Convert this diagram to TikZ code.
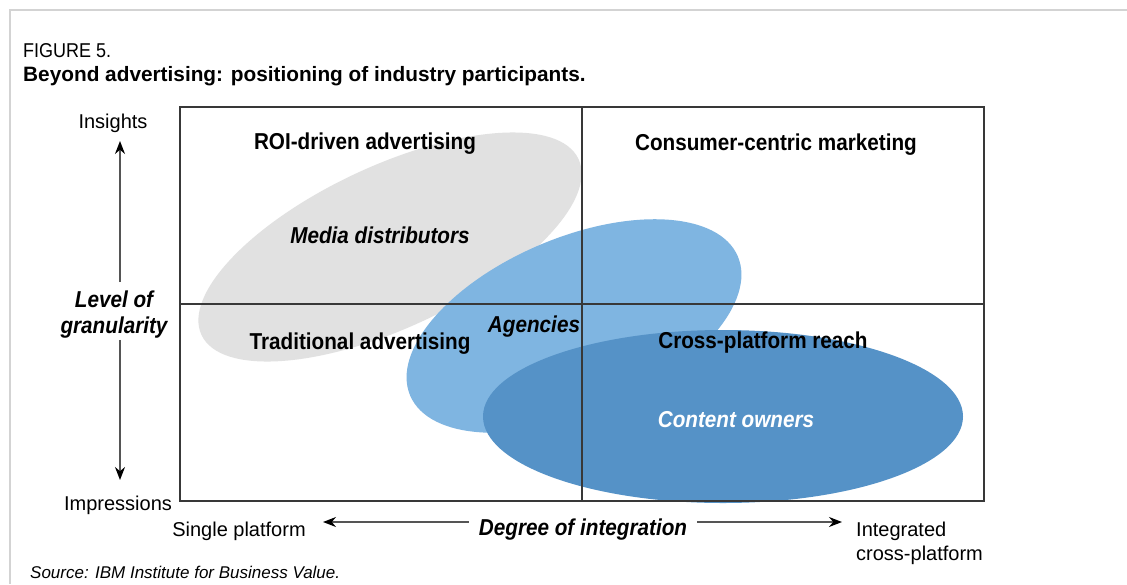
\documentclass[tikz,border=0pt]{standalone}
\usepackage{fontspec}
\setmainfont{Liberation Sans}
\newfontfamily\condfont{Liberation Sans}[FakeStretch=0.9]
\usetikzlibrary{arrows.meta}
\definecolor{ellgray}{HTML}{E1E1E1}
\definecolor{lightblue}{HTML}{7FB5E1}
\definecolor{darkblue}{HTML}{5592C7}
\definecolor{bordergray}{HTML}{D3D3D3}
\definecolor{gridcol}{HTML}{383838}
\definecolor{arrowline}{HTML}{555555}
\begin{document}
\begin{tikzpicture}[x=1pt,y=-1pt,
  boldlbl/.style={font=\condfont\fontsize{23}{27}\selectfont\bfseries, inner sep=0pt, anchor=base},
  itlbl/.style={font=\condfont\fontsize{23}{26}\selectfont\bfseries\itshape, inner sep=0pt, anchor=base},
  reglbl/.style={font=\fontsize{20}{24}\selectfont, inner sep=0pt, anchor=base},
  axarrow/.style={draw=arrowline, line width=1.5pt, -{Stealth[length=13pt,width=10pt,color=black]}},
  gridline/.style={draw=gridcol, line width=1.2pt}
]
\useasboundingbox (0,0) rectangle (1127,584);
\fill[white] (0,0) rectangle (1127,584);
% page border
\draw[bordergray, line width=2pt] (10,584) -- (10,10) -- (1127,10);
% ellipses
\fill[ellgray] (390,247) ellipse [x radius=208, y radius=81, rotate=25];
\fill[lightblue] (574,326) ellipse [x radius=178, y radius=88, rotate=23];
\fill[darkblue] (723,416.5) ellipse [x radius=240, y radius=86.5];
% grid
\draw[gridline] (180,107) rectangle (984,501);
\draw[gridline] (582,107) -- (582,501);
\draw[gridline] (180,304) -- (984,304);
% heading
\node[font=\condfont\fontsize{20}{24}\selectfont, inner sep=0pt, anchor=base west] (fig) at (23,57) {FIGURE 5.};
\node[font=\fontsize{20.8}{25}\selectfont\bfseries, inner sep=0pt, anchor=base west] (title) at (23,81) {Beyond advertising: positioning of industry participants.};
% quadrant labels
\node[boldlbl] (roi) at (365,149) {ROI-driven advertising};
\node[boldlbl] (ccm) at (776,150) {Consumer-centric marketing};
\node[boldlbl] (trad) at (360,349) {Traditional advertising};
\node[boldlbl] (cpr) at (763,348) {Cross-platform reach};
% participants
\node[itlbl] (media) at (380,243) {Media distributors};
\node[itlbl] (agen) at (534,332) {Agencies};
\node[itlbl, text=white] (cont) at (736,427) {Content owners};
% axes
\node[itlbl, anchor=center, align=center] (gran) at (114,315) {Level of\\granularity};
\node[itlbl] (deg) at (583,535) {Degree of integration};
\node[reglbl] (ins) at (113,128) {Insights};
\node[reglbl] (imp) at (118,510) {Impressions};
\node[reglbl] (single) at (239,536) {Single platform};
\node[reglbl, anchor=north west, align=left] (integ) at (856,521.5) {Integrated\\cross-platform};
\node[font=\fontsize{17}{20}\selectfont\itshape, inner sep=0pt, anchor=base west] (src) at (30,578) {Source: IBM Institute for Business Value.};
\coordinate (ytop) at (120,141);
\coordinate (ybot) at (120,480);
\coordinate (xl) at (323,522);
\coordinate (xr) at (842,522);
\draw[axarrow, shorten <=9pt] (gran.north -| ytop) -- (ytop);
\draw[axarrow, shorten <=1pt] (gran.south -| ybot) -- (ybot);
\draw[axarrow, shorten <=10pt] (deg.west |- xl) -- (xl);
\draw[axarrow, shorten <=10pt] (deg.east |- xr) -- (xr);
\end{tikzpicture}
\end{document}
